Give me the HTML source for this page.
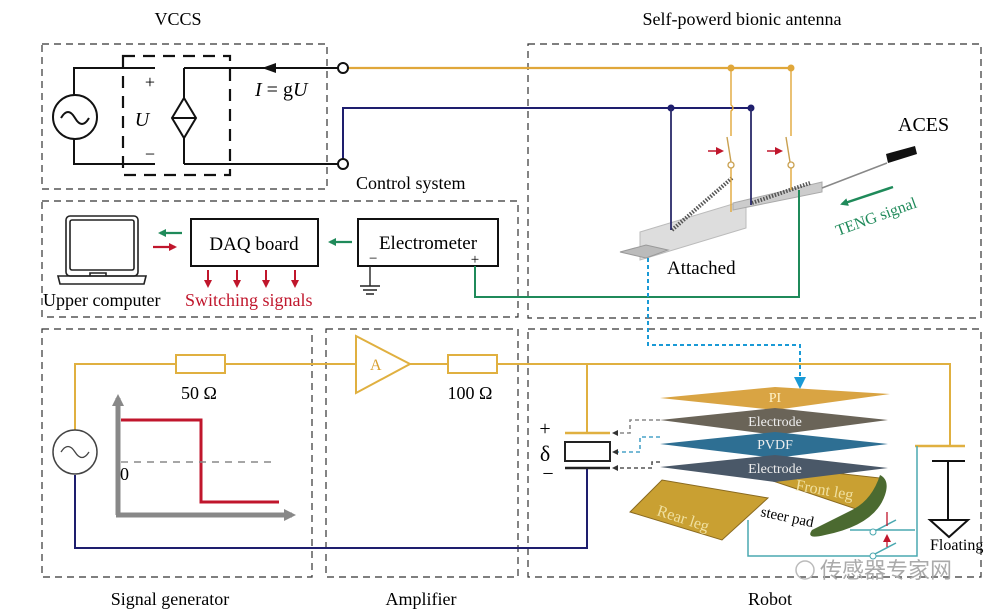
<!DOCTYPE html>
<html><head><meta charset="utf-8"><style>
html,body{margin:0;padding:0;background:#fff}
svg{display:block}
text{font-family:"Liberation Serif",serif}
</style></head><body>
<svg width="999" height="614" viewBox="0 0 999 614" xmlns="http://www.w3.org/2000/svg">
<defs>
<marker id="ag" markerWidth="8" markerHeight="8" refX="6" refY="4" orient="auto" markerUnits="userSpaceOnUse"><path d="M0,0 L8,4 L0,8 z" fill="#1f8a5a"/></marker>
<marker id="ar" markerWidth="8" markerHeight="8" refX="6" refY="4" orient="auto" markerUnits="userSpaceOnUse"><path d="M0,0 L8,4 L0,8 z" fill="#c0162c"/></marker>
<marker id="ab" markerWidth="12" markerHeight="12" refX="8" refY="6" orient="auto" markerUnits="userSpaceOnUse"><path d="M0,0 L12,6 L0,12 z" fill="#1a9ad6"/></marker>
<marker id="agr" markerWidth="12" markerHeight="12" refX="8" refY="6" orient="auto" markerUnits="userSpaceOnUse"><path d="M0,0 L12,6 L0,12 z" fill="#888"/></marker>
<marker id="ad" markerWidth="6" markerHeight="6" refX="4" refY="3" orient="auto" markerUnits="userSpaceOnUse"><path d="M0,0 L6,3 L0,6 z" fill="#333"/></marker>
</defs>

<text x="178" y="25" font-size="18" text-anchor="middle">VCCS</text>
<text x="742" y="25" font-size="18" text-anchor="middle">Self-powerd bionic antenna</text>
<text x="356" y="189" font-size="18">Control system</text>
<text x="170" y="605" font-size="18" text-anchor="middle">Signal generator</text>
<text x="421" y="605" font-size="18" text-anchor="middle">Amplifier</text>
<text x="770" y="605" font-size="18" text-anchor="middle">Robot</text>

<g fill="none" stroke="#333" stroke-width="1.2" stroke-dasharray="7,5">
<rect x="42" y="44" width="285" height="145"/>
<rect x="42" y="201" width="476" height="116"/>
<rect x="528" y="44" width="453" height="274"/>
<rect x="42" y="329" width="270" height="248"/>
<rect x="326" y="329" width="192" height="248"/>
<rect x="528" y="329" width="453" height="248"/>
</g>

<g fill="none" stroke="#111" stroke-width="2">
<circle cx="75" cy="117" r="22"/>
<path d="M61,118 q7,-12 14,0 q7,12 14,0"/>
<path d="M74,95 V68 H155 M74,139 V164 H155"/>
<rect x="123" y="56" width="107" height="119" stroke-dasharray="12,8" stroke-width="2.2"/>
<path d="M184,68 V98 M184,138 V164 M184,98 L196,118 L184,138 L172,118 Z M172,118 H196"/>
<path d="M184,68 H338 M184,164 H338"/>
</g>
<path d="M262,68 L276,63 L276,73 Z" fill="#111"/>
<text x="150" y="88" font-size="18" text-anchor="middle">+</text>
<text x="142" y="126" font-size="20" font-style="italic" text-anchor="middle">U</text>
<text x="150" y="160" font-size="18" text-anchor="middle">−</text>
<text x="255" y="96" font-size="20"><tspan font-style="italic">I</tspan> = g<tspan font-style="italic">U</tspan></text>

<path d="M348,68 H793" stroke="#e0a73a" stroke-width="2.2" fill="none"/>
<path d="M343,159 V108 H751" stroke="#1e1e6e" stroke-width="2" fill="none"/>
<circle cx="343" cy="68" r="5" fill="#fff" stroke="#111" stroke-width="2"/>
<circle cx="343" cy="164" r="5" fill="#fff" stroke="#111" stroke-width="2"/>
<circle cx="731" cy="68" r="3.5" fill="#e0a73a"/>
<circle cx="791" cy="68" r="3.5" fill="#e0a73a"/>
<circle cx="671" cy="108" r="3.5" fill="#1e1e6e"/>
<circle cx="751" cy="108" r="3.5" fill="#1e1e6e"/>

<polygon points="640,232 746,200 746,228 640,260" fill="#ddd" stroke="#bbb"/>
<polygon points="733,203 822,182 822,192 733,210" fill="#ccc" stroke="#aaa"/>
<polygon points="620,252 646,245 668,250 646,258" fill="#bbb" stroke="#999"/>
<path d="M822,188 L887,163" stroke="#888" stroke-width="1.5"/>
<polygon points="886,154 915,146 917,154 888,163" fill="#111"/>
<path d="M672,230 l60,-52" stroke="#555" stroke-width="4" stroke-dasharray="1.5,1.5"/>
<path d="M752,203 l58,-20" stroke="#555" stroke-width="4" stroke-dasharray="1.5,1.5"/>
<g fill="none" stroke-width="1.8">
<path d="M671,108 V230" stroke="#2a2a6a"/>
<path d="M751,108 V205" stroke="#2a2a6a"/>
<path d="M731,68 V105 q4,3 0,6 V136 M731,165 V212" stroke="#e0a73a" stroke-width="1.4"/>
<path d="M791,68 V136 M791,165 V190" stroke="#e0a73a" stroke-width="1.4"/>
<path d="M727,137 L731,162 M786,137 L790,162" stroke="#c9a050" stroke-width="1.4"/>
</g>
<circle cx="731" cy="165" r="3" fill="#fff" stroke="#c9a050" stroke-width="1.3"/>
<circle cx="791" cy="165" r="3" fill="#fff" stroke="#c9a050" stroke-width="1.3"/>
<path d="M708,151 H722" stroke="#c0162c" stroke-width="1.5" marker-end="url(#ar)"/>
<path d="M767,151 H781" stroke="#c0162c" stroke-width="1.5" marker-end="url(#ar)"/>
<text x="898" y="131" font-size="20">ACES</text>
<path d="M893,187 L842,204" stroke="#1f8a5a" stroke-width="2.5" marker-end="url(#ag)"/>
<text x="838" y="236" font-size="16" fill="#1f8a5a" transform="rotate(-20 838 236)">TENG signal</text>
<text x="667" y="274" font-size="19">Attached</text>

<g fill="none" stroke="#222" stroke-width="1.6">
<rect x="66" y="216" width="72" height="60" rx="4"/>
<rect x="70" y="220" width="64" height="50" rx="2"/>
<path d="M58,276 H146 L144,284 H60 Z M90,276 v-3 h16 v3"/>
</g>
<rect x="191" y="219" width="127" height="47" fill="none" stroke="#111" stroke-width="2"/>
<text x="254" y="250" font-size="19" text-anchor="middle">DAQ board</text>
<rect x="358" y="219" width="140" height="47" fill="none" stroke="#111" stroke-width="2"/>
<text x="428" y="249" font-size="19" text-anchor="middle">Electrometer</text>
<text x="369" y="263" font-size="15">−</text>
<text x="475" y="264" font-size="15" text-anchor="middle">+</text>
<path d="M370,266 V286 M360,286 H380 M363,290 H377 M366,294 H374" stroke="#222" stroke-width="1.4" fill="none"/>
<path d="M182,233 H160" stroke="#1f8a5a" stroke-width="2.2" marker-end="url(#ag)"/>
<path d="M153,247 H175" stroke="#c0162c" stroke-width="2.2" marker-end="url(#ar)"/>
<path d="M352,242 H330" stroke="#1f8a5a" stroke-width="2.2" marker-end="url(#ag)"/>
<g stroke="#c0162c" stroke-width="2" marker-end="url(#ar)">
<path d="M208,270 V286"/><path d="M237,270 V286"/><path d="M266,270 V286"/><path d="M295,270 V286"/>
</g>
<text x="43" y="306" font-size="18">Upper computer</text>
<text x="185" y="306" font-size="18" fill="#c0162c">Switching signals</text>
<path d="M475,266 V297 H799 V190" stroke="#1f8a5a" stroke-width="2" fill="none"/>
<path d="M648,258 V345 H800 V385" stroke="#1a9ad6" stroke-width="2" stroke-dasharray="4,3" fill="none" marker-end="url(#ab)"/>

<path d="M75,430 V364 H176 M225,364 H356 M410,364 H448 M497,364 H950 V446 M587,364 V433" stroke="#e0b040" stroke-width="2" fill="none"/>
<rect x="176" y="355" width="49" height="18" fill="#fff" stroke="#e0b040" stroke-width="2"/>
<rect x="448" y="355" width="49" height="18" fill="#fff" stroke="#e0b040" stroke-width="2"/>
<polygon points="356,336 410,364 356,393" fill="#fff" stroke="#e0b040" stroke-width="2"/>
<text x="370" y="370" font-size="16" fill="#d8a030">A</text>
<text x="199" y="399" font-size="18" text-anchor="middle">50 Ω</text>
<text x="470" y="399" font-size="18" text-anchor="middle">100 Ω</text>
<circle cx="75" cy="452" r="22" fill="none" stroke="#444" stroke-width="1.5"/>
<path d="M61,452 q7,-11 14,0 q7,11 14,0" fill="none" stroke="#444" stroke-width="1.3"/>
<path d="M75,475 V548 H587 V468" stroke="#1e1e6e" stroke-width="2" fill="none"/>
<path d="M118,515 V398" stroke="#888" stroke-width="5" marker-end="url(#agr)"/>
<path d="M116,515 H292" stroke="#888" stroke-width="5" marker-end="url(#agr)"/>
<path d="M121,420 H201 V502 H279" stroke="#c0162c" stroke-width="3" fill="none"/>
<path d="M121,462 H276" stroke="#888" stroke-width="1.4" stroke-dasharray="7,6"/>
<text x="120" y="480" font-size="18">0</text>

<path d="M565,433 H610" stroke="#e0b040" stroke-width="2.5"/>
<rect x="565" y="442" width="45" height="19" fill="#fff" stroke="#222" stroke-width="2"/>
<path d="M565,468 H610" stroke="#222" stroke-width="2.5"/>
<text x="545" y="435" font-size="20" text-anchor="middle">+</text>
<text x="545" y="461" font-size="22" text-anchor="middle">δ</text>
<text x="548" y="480" font-size="20" text-anchor="middle">−</text>
<g fill="none" stroke-width="1.6" stroke-dasharray="4,3">
<path d="M660,420 H630 V433 H614" stroke="#888" marker-end="url(#ad)"/>
<path d="M660,437 H640 V452 H614" stroke="#4aa3c8" marker-end="url(#ad)"/>
<path d="M660,462 H652 V468 H614" stroke="#555" marker-end="url(#ad)"/>
</g>
<polygon points="630,512 662,480 768,498 722,540" fill="#c9a032" stroke="#8a6a20"/>
<text x="656" y="515" font-size="16" fill="#f0e0a0" transform="rotate(18 656 515)">Rear leg</text>
<polygon points="770,480 790,468 880,478 865,512" fill="#c9a032" stroke="#8a6a20"/>
<text x="795" y="490" font-size="16" fill="#f0e0a0" transform="rotate(10 795 490)">Front leg</text>
<path d="M812,530 q20,-10 40,-20 q20,-10 28,-35 q10,5 5,20 q-10,30 -60,40 q-20,5 -13,-5z" fill="#4b6a30"/>
<text x="760" y="516" font-size="15" transform="rotate(12 760 516)">steer pad</text>
<polygon points="660,398 775,387 890,394 775,410" fill="#d9a443"/>
<text x="775" y="402" font-size="14" fill="#fff3c8" text-anchor="middle">PI</text>
<polygon points="660,420 775,408 888,420 775,435" fill="#6a6458"/>
<text x="775" y="426" font-size="14" fill="#eee" text-anchor="middle">Electrode</text>
<polygon points="660,444 775,432 888,444 775,458" fill="#2e6f93"/>
<text x="775" y="449" font-size="14" fill="#eee" text-anchor="middle">PVDF</text>
<polygon points="660,467 775,455 888,468 775,482" fill="#4a5868"/>
<text x="775" y="473" font-size="14" fill="#eee" text-anchor="middle">Electrode</text>
<path d="M915,446 H965" stroke="#e0b040" stroke-width="2.5"/>
<path d="M932,461 H965 M948,461 V520" stroke="#111" stroke-width="2"/>
<polygon points="930,520 968,520 949,537" fill="#fff" stroke="#111" stroke-width="2"/>
<text x="930" y="550" font-size="16">Floating</text>
<path d="M917,446 V556 H748 V520 M850,530 H915" stroke="#4aa8b0" stroke-width="1.5" fill="none"/>
<path d="M873,532 L896,520 M873,555 L896,543" stroke="#4aa8b0" stroke-width="1.5"/>
<circle cx="873" cy="532" r="3" fill="#fff" stroke="#4aa8b0"/>
<circle cx="873" cy="556" r="3" fill="#fff" stroke="#4aa8b0"/>
<path d="M887,512 V526 M887,547 V536" stroke="#c0162c" stroke-width="1.3" marker-end="url(#ar)"/>
<text x="820" y="578" font-size="22" fill="#aaa" font-family="Noto Sans CJK SC, sans-serif">传感器专家网</text>
<circle cx="805" cy="570" r="9" fill="none" stroke="#bbb" stroke-width="1.5"/>
</svg>
</body></html>
